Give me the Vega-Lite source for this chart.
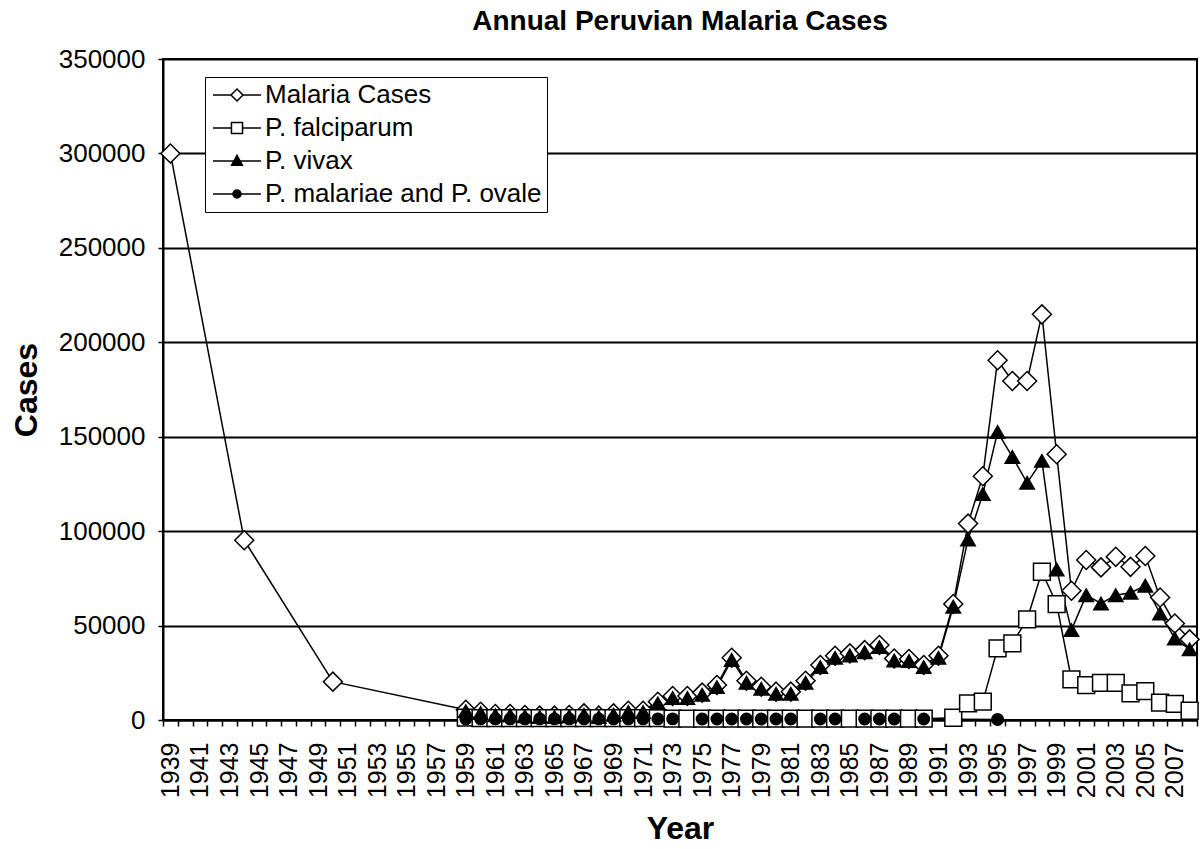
{
  "$schema": "https://vega.github.io/schema/vega-lite/v6.json",
  "width": 1034,
  "height": 661,
  "autosize": {"type": "none"},
  "padding": {"left": 163, "top": 59, "right": 3, "bottom": 129},
  "background": "white",
  "config": {
    "font": "Liberation Sans",
    "view": {"stroke": "black", "strokeWidth": 2}
  },
  "title": {
    "text": "Annual Peruvian Malaria Cases",
    "font": "Liberation Sans",
    "fontSize": 28,
    "fontWeight": "bold",
    "color": "black",
    "anchor": "middle",
    "offset": 10
  },
  "data": {
    "values": [
      {"series": "Malaria Cases", "year": 1939, "cases": 300000},
      {"series": "Malaria Cases", "year": 1944, "cases": 95200},
      {"series": "Malaria Cases", "year": 1950, "cases": 20300},
      {"series": "Malaria Cases", "year": 1959, "cases": 5450},
      {"series": "Malaria Cases", "year": 1960, "cases": 4400},
      {"series": "Malaria Cases", "year": 1961, "cases": 3200},
      {"series": "Malaria Cases", "year": 1962, "cases": 3200},
      {"series": "Malaria Cases", "year": 1963, "cases": 2650},
      {"series": "Malaria Cases", "year": 1964, "cases": 2300},
      {"series": "Malaria Cases", "year": 1965, "cases": 2300},
      {"series": "Malaria Cases", "year": 1966, "cases": 2650},
      {"series": "Malaria Cases", "year": 1967, "cases": 3500},
      {"series": "Malaria Cases", "year": 1968, "cases": 2300},
      {"series": "Malaria Cases", "year": 1969, "cases": 3500},
      {"series": "Malaria Cases", "year": 1970, "cases": 4900},
      {"series": "Malaria Cases", "year": 1971, "cases": 4900},
      {"series": "Malaria Cases", "year": 1972, "cases": 9700},
      {"series": "Malaria Cases", "year": 1973, "cases": 12700},
      {"series": "Malaria Cases", "year": 1974, "cases": 12700},
      {"series": "Malaria Cases", "year": 1975, "cases": 14500},
      {"series": "Malaria Cases", "year": 1976, "cases": 18500},
      {"series": "Malaria Cases", "year": 1977, "cases": 33000},
      {"series": "Malaria Cases", "year": 1978, "cases": 20800},
      {"series": "Malaria Cases", "year": 1979, "cases": 17600},
      {"series": "Malaria Cases", "year": 1980, "cases": 15000},
      {"series": "Malaria Cases", "year": 1981, "cases": 15000},
      {"series": "Malaria Cases", "year": 1982, "cases": 20800},
      {"series": "Malaria Cases", "year": 1983, "cases": 29100},
      {"series": "Malaria Cases", "year": 1984, "cases": 34000},
      {"series": "Malaria Cases", "year": 1985, "cases": 35300},
      {"series": "Malaria Cases", "year": 1986, "cases": 37000},
      {"series": "Malaria Cases", "year": 1987, "cases": 39700},
      {"series": "Malaria Cases", "year": 1988, "cases": 32600},
      {"series": "Malaria Cases", "year": 1989, "cases": 32300},
      {"series": "Malaria Cases", "year": 1990, "cases": 29100},
      {"series": "Malaria Cases", "year": 1991, "cases": 34000},
      {"series": "Malaria Cases", "year": 1992, "cases": 61400},
      {"series": "Malaria Cases", "year": 1993, "cases": 104000},
      {"series": "Malaria Cases", "year": 1994, "cases": 129100},
      {"series": "Malaria Cases", "year": 1995, "cases": 190500},
      {"series": "Malaria Cases", "year": 1996, "cases": 179500},
      {"series": "Malaria Cases", "year": 1997, "cases": 179500},
      {"series": "Malaria Cases", "year": 1998, "cases": 214800},
      {"series": "Malaria Cases", "year": 1999, "cases": 140700},
      {"series": "Malaria Cases", "year": 2000, "cases": 68400},
      {"series": "Malaria Cases", "year": 2001, "cases": 84700},
      {"series": "Malaria Cases", "year": 2002, "cases": 80800},
      {"series": "Malaria Cases", "year": 2003, "cases": 86400},
      {"series": "Malaria Cases", "year": 2004, "cases": 81100},
      {"series": "Malaria Cases", "year": 2005, "cases": 86800},
      {"series": "Malaria Cases", "year": 2006, "cases": 64900},
      {"series": "Malaria Cases", "year": 2007, "cases": 51100},
      {"series": "Malaria Cases", "year": 2008, "cases": 42700},

      {"series": "P. falciparum", "year": 1959, "cases": 1300},
      {"series": "P. falciparum", "year": 1960, "cases": 1000},
      {"series": "P. falciparum", "year": 1961, "cases": 1000},
      {"series": "P. falciparum", "year": 1962, "cases": 1000},
      {"series": "P. falciparum", "year": 1963, "cases": 1000},
      {"series": "P. falciparum", "year": 1964, "cases": 1000},
      {"series": "P. falciparum", "year": 1965, "cases": 1000},
      {"series": "P. falciparum", "year": 1966, "cases": 1000},
      {"series": "P. falciparum", "year": 1967, "cases": 1000},
      {"series": "P. falciparum", "year": 1968, "cases": 1000},
      {"series": "P. falciparum", "year": 1969, "cases": 1000},
      {"series": "P. falciparum", "year": 1970, "cases": 1000},
      {"series": "P. falciparum", "year": 1971, "cases": 1000},
      {"series": "P. falciparum", "year": 1972, "cases": 1000},
      {"series": "P. falciparum", "year": 1973, "cases": 700},
      {"series": "P. falciparum", "year": 1974, "cases": 700},
      {"series": "P. falciparum", "year": 1975, "cases": 700},
      {"series": "P. falciparum", "year": 1976, "cases": 700},
      {"series": "P. falciparum", "year": 1977, "cases": 700},
      {"series": "P. falciparum", "year": 1978, "cases": 700},
      {"series": "P. falciparum", "year": 1979, "cases": 700},
      {"series": "P. falciparum", "year": 1980, "cases": 700},
      {"series": "P. falciparum", "year": 1981, "cases": 700},
      {"series": "P. falciparum", "year": 1982, "cases": 700},
      {"series": "P. falciparum", "year": 1983, "cases": 700},
      {"series": "P. falciparum", "year": 1984, "cases": 700},
      {"series": "P. falciparum", "year": 1985, "cases": 700},
      {"series": "P. falciparum", "year": 1986, "cases": 700},
      {"series": "P. falciparum", "year": 1987, "cases": 700},
      {"series": "P. falciparum", "year": 1988, "cases": 700},
      {"series": "P. falciparum", "year": 1989, "cases": 700},
      {"series": "P. falciparum", "year": 1990, "cases": 700},
      {"series": "P. falciparum", "year": 1992, "cases": 1200},
      {"series": "P. falciparum", "year": 1993, "cases": 8800},
      {"series": "P. falciparum", "year": 1994, "cases": 9700},
      {"series": "P. falciparum", "year": 1995, "cases": 37900},
      {"series": "P. falciparum", "year": 1996, "cases": 40600},
      {"series": "P. falciparum", "year": 1997, "cases": 53300},
      {"series": "P. falciparum", "year": 1998, "cases": 78500},
      {"series": "P. falciparum", "year": 1999, "cases": 61400},
      {"series": "P. falciparum", "year": 2000, "cases": 21500},
      {"series": "P. falciparum", "year": 2001, "cases": 18500},
      {"series": "P. falciparum", "year": 2002, "cases": 19700},
      {"series": "P. falciparum", "year": 2003, "cases": 19700},
      {"series": "P. falciparum", "year": 2004, "cases": 14100},
      {"series": "P. falciparum", "year": 2005, "cases": 15300},
      {"series": "P. falciparum", "year": 2006, "cases": 9200},
      {"series": "P. falciparum", "year": 2007, "cases": 8500},
      {"series": "P. falciparum", "year": 2008, "cases": 4900},

      {"series": "P. vivax", "year": 1959, "cases": 4700},
      {"series": "P. vivax", "year": 1960, "cases": 3700},
      {"series": "P. vivax", "year": 1961, "cases": 2500},
      {"series": "P. vivax", "year": 1962, "cases": 2500},
      {"series": "P. vivax", "year": 1963, "cases": 1950},
      {"series": "P. vivax", "year": 1964, "cases": 1600},
      {"series": "P. vivax", "year": 1965, "cases": 1600},
      {"series": "P. vivax", "year": 1966, "cases": 1950},
      {"series": "P. vivax", "year": 1967, "cases": 2800},
      {"series": "P. vivax", "year": 1968, "cases": 1600},
      {"series": "P. vivax", "year": 1969, "cases": 2800},
      {"series": "P. vivax", "year": 1970, "cases": 4200},
      {"series": "P. vivax", "year": 1971, "cases": 4200},
      {"series": "P. vivax", "year": 1972, "cases": 8800},
      {"series": "P. vivax", "year": 1973, "cases": 11600},
      {"series": "P. vivax", "year": 1974, "cases": 11600},
      {"series": "P. vivax", "year": 1975, "cases": 13400},
      {"series": "P. vivax", "year": 1976, "cases": 17400},
      {"series": "P. vivax", "year": 1977, "cases": 31800},
      {"series": "P. vivax", "year": 1978, "cases": 19700},
      {"series": "P. vivax", "year": 1979, "cases": 16500},
      {"series": "P. vivax", "year": 1980, "cases": 13900},
      {"series": "P. vivax", "year": 1981, "cases": 13900},
      {"series": "P. vivax", "year": 1982, "cases": 19700},
      {"series": "P. vivax", "year": 1983, "cases": 28000},
      {"series": "P. vivax", "year": 1984, "cases": 32900},
      {"series": "P. vivax", "year": 1985, "cases": 34200},
      {"series": "P. vivax", "year": 1986, "cases": 35900},
      {"series": "P. vivax", "year": 1987, "cases": 38600},
      {"series": "P. vivax", "year": 1988, "cases": 31500},
      {"series": "P. vivax", "year": 1989, "cases": 31200},
      {"series": "P. vivax", "year": 1990, "cases": 28000},
      {"series": "P. vivax", "year": 1991, "cases": 32900},
      {"series": "P. vivax", "year": 1992, "cases": 60000},
      {"series": "P. vivax", "year": 1993, "cases": 95600},
      {"series": "P. vivax", "year": 1994, "cases": 119600},
      {"series": "P. vivax", "year": 1995, "cases": 152500},
      {"series": "P. vivax", "year": 1996, "cases": 139300},
      {"series": "P. vivax", "year": 1997, "cases": 125600},
      {"series": "P. vivax", "year": 1998, "cases": 137200},
      {"series": "P. vivax", "year": 1999, "cases": 79700},
      {"series": "P. vivax", "year": 2000, "cases": 47600},
      {"series": "P. vivax", "year": 2001, "cases": 66100},
      {"series": "P. vivax", "year": 2002, "cases": 61700},
      {"series": "P. vivax", "year": 2003, "cases": 66100},
      {"series": "P. vivax", "year": 2004, "cases": 67400},
      {"series": "P. vivax", "year": 2005, "cases": 71100},
      {"series": "P. vivax", "year": 2006, "cases": 56400},
      {"series": "P. vivax", "year": 2007, "cases": 43200},
      {"series": "P. vivax", "year": 2008, "cases": 37400},

      {"series": "P. malariae and P. ovale", "year": 1959, "cases": 600},
      {"series": "P. malariae and P. ovale", "year": 1960, "cases": 600},
      {"series": "P. malariae and P. ovale", "year": 1961, "cases": 600},
      {"series": "P. malariae and P. ovale", "year": 1962, "cases": 600},
      {"series": "P. malariae and P. ovale", "year": 1963, "cases": 600},
      {"series": "P. malariae and P. ovale", "year": 1964, "cases": 600},
      {"series": "P. malariae and P. ovale", "year": 1965, "cases": 600},
      {"series": "P. malariae and P. ovale", "year": 1966, "cases": 600},
      {"series": "P. malariae and P. ovale", "year": 1967, "cases": 600},
      {"series": "P. malariae and P. ovale", "year": 1968, "cases": 600},
      {"series": "P. malariae and P. ovale", "year": 1969, "cases": 600},
      {"series": "P. malariae and P. ovale", "year": 1970, "cases": 600},
      {"series": "P. malariae and P. ovale", "year": 1971, "cases": 600},
      {"series": "P. malariae and P. ovale", "year": 1972, "cases": 600},
      {"series": "P. malariae and P. ovale", "year": 1973, "cases": 600},
      {"series": "P. malariae and P. ovale", "year": 1975, "cases": 500},
      {"series": "P. malariae and P. ovale", "year": 1976, "cases": 500},
      {"series": "P. malariae and P. ovale", "year": 1977, "cases": 500},
      {"series": "P. malariae and P. ovale", "year": 1978, "cases": 500},
      {"series": "P. malariae and P. ovale", "year": 1979, "cases": 500},
      {"series": "P. malariae and P. ovale", "year": 1980, "cases": 500},
      {"series": "P. malariae and P. ovale", "year": 1981, "cases": 500},
      {"series": "P. malariae and P. ovale", "year": 1983, "cases": 500},
      {"series": "P. malariae and P. ovale", "year": 1984, "cases": 500},
      {"series": "P. malariae and P. ovale", "year": 1986, "cases": 500},
      {"series": "P. malariae and P. ovale", "year": 1987, "cases": 500},
      {"series": "P. malariae and P. ovale", "year": 1988, "cases": 500},
      {"series": "P. malariae and P. ovale", "year": 1990, "cases": 500},
      {"series": "P. malariae and P. ovale", "year": 1995, "cases": 300}
    ]
  },
  "encoding": {
    "x": {
      "field": "year",
      "type": "ordinal",
      "scale": {
        "domain": [1939,1940,1941,1942,1943,1944,1945,1946,1947,1948,1949,1950,1951,1952,1953,1954,1955,1956,1957,1958,1959,1960,1961,1962,1963,1964,1965,1966,1967,1968,1969,1970,1971,1972,1973,1974,1975,1976,1977,1978,1979,1980,1981,1982,1983,1984,1985,1986,1987,1988,1989,1990,1991,1992,1993,1994,1995,1996,1997,1998,1999,2000,2001,2002,2003,2004,2005,2006,2007,2008],
        "paddingInner": 0,
        "paddingOuter": 0
      },
      "axis": {
        "title": "Year",
        "titleFont": "Liberation Sans",
        "titleFontSize": 32,
        "titleFontWeight": "bold",
        "titleColor": "black",
        "titlePadding": 16,
        "labelAngle": -90,
        "labelFont": "Liberation Sans",
        "labelFontSize": 25,
        "labelColor": "black",
        "labelPadding": 16,
        "labelOverlap": false,
        "labelExpr": "(datum.value - 1939) % 2 === 0 ? datum.label : ''",
        "tickBand": "extent",
        "tickSize": 6,
        "tickColor": "black",
        "tickWidth": 1.5,
        "domainColor": "black",
        "domainWidth": 2,
        "grid": false
      }
    },
    "y": {
      "field": "cases",
      "type": "quantitative",
      "scale": {"domain": [0, 350000], "nice": false},
      "axis": {
        "title": "Cases",
        "titleFont": "Liberation Sans",
        "titleFontSize": 32,
        "titleFontWeight": "bold",
        "titleColor": "black",
        "titlePadding": 15,
        "values": [0, 50000, 100000, 150000, 200000, 250000, 300000, 350000],
        "format": "d",
        "labelFont": "Liberation Sans",
        "labelFontSize": 26,
        "labelColor": "black",
        "labelPadding": 13,
        "tickSize": 5,
        "tickColor": "black",
        "tickWidth": 1.5,
        "domainColor": "black",
        "domainWidth": 2,
        "grid": true,
        "gridColor": "black",
        "gridWidth": 2,
        "gridOpacity": 1
      }
    }
  },
  "layer": [
    {
      "mark": {"type": "line", "color": "black", "strokeWidth": 1.5},
      "encoding": {"detail": {"field": "series"}}
    },
    {
      "mark": {"type": "point", "stroke": "black", "strokeWidth": 1.5, "opacity": 1},
      "encoding": {
        "shape": {
          "field": "series",
          "type": "nominal",
          "scale": {
            "domain": ["Malaria Cases", "P. falciparum", "P. vivax", "P. malariae and P. ovale"],
            "range": ["diamond", "square", "triangle-up", "circle"]
          },
          "legend": null
        },
        "fill": {
          "field": "series",
          "type": "nominal",
          "scale": {
            "domain": ["Malaria Cases", "P. falciparum", "P. vivax", "P. malariae and P. ovale"],
            "range": ["white", "white", "black", "black"]
          },
          "legend": null
        },
        "size": {
          "field": "series",
          "type": "nominal",
          "scale": {
            "domain": ["Malaria Cases", "P. falciparum", "P. vivax", "P. malariae and P. ovale"],
            "range": [360, 130, 70, 45]
          },
          "legend": null
        }
      }
    },
    {
      "transform": [{"filter": "datum.year < 0"}],
      "mark": {"type": "point", "stroke": "black", "strokeWidth": 1.5, "opacity": 1, "size": 144},
      "encoding": {
        "shape": {
          "field": "series",
          "type": "nominal",
          "scale": {
            "domain": ["Malaria Cases", "P. falciparum", "P. vivax", "P. malariae and P. ovale"],
            "range": [
              "M-4,0H-1M1,0H4M0,-1L1,0L0,1L-1,0Z",
              "M-4,0H-0.92M0.92,0H4M-0.92,-0.92H0.92V0.92H-0.92Z",
              "M-4,0H4M0,-0.95L0.9,0.7H-0.9Z",
              "M-4,0H4M-0.67,0A0.67,0.67,0,1,0,0.67,0A0.67,0.67,0,1,0,-0.67,0Z"
            ]
          },
          "legend": {
            "title": null,
            "orient": "none",
            "legendX": 42,
            "legendY": 18,
            "direction": "vertical",
            "labelFont": "Liberation Sans",
            "labelFontSize": 26,
            "labelColor": "black",
            "strokeColor": "black",
            "fillColor": "white",
            "padding": 5,
            "rowPadding": 7,
            "symbolSize": 144,
            "symbolStrokeWidth": 1.5,
            "symbolOffset": 14,
            "labelOffset": 15,
            "labelLimit": 400
          }
        },
        "fill": {
          "field": "series",
          "type": "nominal",
          "scale": {
            "domain": ["Malaria Cases", "P. falciparum", "P. vivax", "P. malariae and P. ovale"],
            "range": ["white", "white", "black", "black"]
          }
        }
      }
    }
  ],
  "resolve": {"scale": {"shape": "independent", "fill": "independent", "size": "independent"}}
}
